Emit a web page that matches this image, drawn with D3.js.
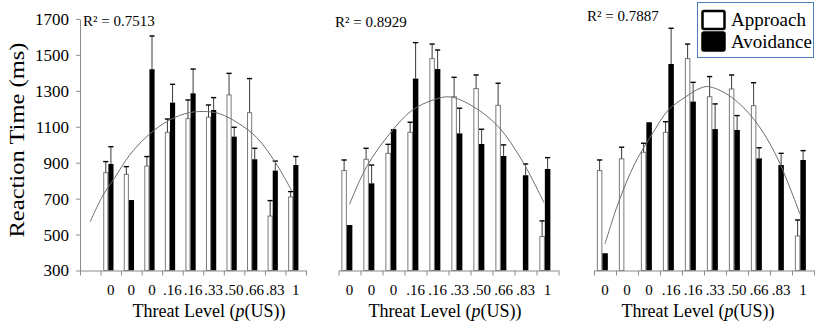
<!DOCTYPE html>
<html>
<head>
<meta charset="utf-8">
<script src="https://cdn.jsdelivr.net/npm/d3@7"></script>
<style>
  html, body { margin: 0; padding: 0; background: #fff; }
  svg { display: block; }
  text { font-family: "Liberation Serif", "Times New Roman", serif; fill: #000; }
</style>
</head>
<body>
<div id="chart"></div>
<script>
// ---------------- data ----------------
const yTicks = [300, 500, 700, 900, 1100, 1300, 1500, 1700];
const seriesNames = ["Approach", "Avoidance"];

const cats1 = ["", "0", "0", "0", ".16", ".16", ".33", ".50", ".66", ".83", "1"];
const approach1    = [null, 844, 835, 881, 1069, 1145, 1153, 1277, 1178, 603, 709];
const approachErr1 = [null, 62, 43, 53, 74, 104, 68, 120, 190, 86, 30];
const avoid1       = [null, 893, 692, 1420, 1234, 1286, 1193, 1045, 919, 856, 887];
const avoidErr1    = [null, 96, 0, 185, 102, 135, 69, 52, 61, 53, 47];
const trend1 = [[0,572],[0.6,715],[1.2,818],[1.9,940],[2.7,1040],[3.6,1120],[4.6,1172],[5.5,1185],[6.3,1172],[7.2,1120],[8.1,1040],[9.0,903],[9.8,745]];

const cats2 = ["0", "0", "0", ".16", ".16", ".33", ".50", ".66", ".83", "1"];
const approach2    = [856, 919, 952, 1069, 1479, 1267, 1312, 1219, null, 489];
const approachErr2 = [59, 61, 50, 56, 81, 108, 76, 123, null, 87];
const avoid2       = [553, 785, 1087, 1368, 1421, 1063, 1004, 937, 830, 865];
const avoidErr2    = [0, 102, 0, 200, 106, 140, 82, 62, 63, 63];
const trend2 = [[0,668],[0.78,878],[1.84,1063],[2.83,1190],[3.81,1249],[4.57,1266],[5.63,1212],[6.76,1101],[7.83,915],[8.84,677]];

const cats3 = ["0", "0", "0", ".16", ".16", ".33", ".50", ".66", ".83", "1"];
const approach3    = [856, 921, 958, 1069, 1479, 1267, 1310, 1217, null, 492];
const approachErr3 = [59, 65, 50, 59, 81, 112, 78, 128, null, 89];
const avoid3       = [396, null, 1125, 1449, 1240, 1087, 1082, 924, 887, 915];
const avoidErr3    = [0, null, 0, 199, 107, 140, 80, 59, 65, 52];
const trend3 = [[0,448],[0.6,674],[1.36,896],[2.12,1054],[2.88,1193],[3.64,1264],[4.32,1314],[4.7,1323],[5.6,1277],[6.67,1156],[7.73,952],[8.86,615]];

const r2Labels = ["R\u00B2 = 0.7513", "R\u00B2 = 0.8929", "R\u00B2 = 0.7887"];
const xTitle = ["Threat Level (", "p", "(US))"];
const yTitle = "Reaction Time (ms)";

// ---------------- layout ----------------
const W = 815, H = 326;
const svg = d3.select("#chart").append("svg").attr("width", W).attr("height", H);

const y = d3.scaleLinear().domain([300, 1700]).range([270.5, 18.9]);

const panels = [
  { cats: cats1, app: approach1, appErr: approachErr1, av: avoid1, avErr: avoidErr1, trend: trend1,
    x0: 80, x1: 306, r2: r2Labels[0], r2x: 83, r2y: 26, yAxis: true, tx: 209 },
  { cats: cats2, app: approach2, appErr: approachErr2, av: avoid2, avErr: avoidErr2, trend: trend2,
    x0: 338.5, x1: 558.5, r2: r2Labels[1], r2x: 335, r2y: 27, yAxis: false, tx: 445 },
  { cats: cats3, app: approach3, appErr: approachErr3, av: avoid3, avErr: avoidErr3, trend: trend3,
    x0: 594, x1: 814, r2: r2Labels[2], r2x: 587, r2y: 21, yAxis: false, tx: 698 }
];

const axisColor = "#8c8c8c";

panels.forEach((p, pi) => {
  const n = p.cats.length;
  const g = svg.append("g");
  const xb = d3.scaleBand().domain(d3.range(n)).range([p.x0, p.x1]).padding(0);
  const bw = xb.bandwidth();
  const sub = d3.scaleBand().domain(seriesNames).range([0.13 * bw, 0.63 * bw]).padding(0);
  const xs = d3.scaleLinear().domain([0, n]).range([p.x0, p.x1]);
  const xt = d3.scaleLinear().domain([-0.5, n - 0.5]).range([p.x0, p.x1]);

  // bars
  const rows = d3.range(n).map(i => ({ i,
    vals: [
      { s: "Approach", v: p.app[i], e: p.appErr[i] },
      { s: "Avoidance", v: p.av[i], e: p.avErr[i] }
    ]}));
  rows.forEach(r => {
    r.vals.forEach(d => {
      if (d.v == null) return;
      const bx = xb(r.i) + sub(d.s);
      const w = sub.bandwidth();
      if (d.s === "Approach") {
        g.append("rect").attr("x", bx + 0.5).attr("y", y(d.v)).attr("width", w - 1)
          .attr("height", y(300) - y(d.v)).attr("fill", "#fff").attr("stroke", "#7a7a7a").attr("stroke-width", 1);
      } else {
        g.append("rect").attr("x", bx).attr("y", y(d.v)).attr("width", w)
          .attr("height", y(300) - y(d.v)).attr("fill", "#000");
      }
      if (d.e > 0) {
        const cx = bx + w / 2;
        g.append("line").attr("x1", cx).attr("x2", cx).attr("y1", y(d.v)).attr("y2", y(d.v + d.e))
          .attr("stroke", "#3a3a3a").attr("stroke-width", 1);
        g.append("line").attr("x1", cx - 2.6).attr("x2", cx + 2.6).attr("y1", y(d.v + d.e)).attr("y2", y(d.v + d.e))
          .attr("stroke", "#000").attr("stroke-width", 1.4);
      }
    });
  });

  // trend curve
  const line = d3.line().x(d => xt(d[0])).y(d => y(d[1])).curve(d3.curveCatmullRom.alpha(0.5));
  g.append("path").attr("d", line(p.trend)).attr("fill", "none").attr("stroke", "#6e6e6e").attr("stroke-width", 1);

  // x axis (ticks at slot boundaries)
  const xa = g.append("g").attr("transform", `translate(0,${y(300)})`)
    .call(d3.axisBottom(xs).tickValues(d3.range(n + 1)).tickFormat("").tickSizeInner(5).tickSizeOuter(0));
  xa.select(".domain").attr("stroke", axisColor);
  xa.selectAll(".tick line").attr("stroke", axisColor);

  // x tick labels (centered in slots)
  g.selectAll("text.xl").data(p.cats).join("text").attr("class", "xl")
    .attr("x", (d, i) => xb(i) + bw / 2).attr("y", 295)
    .attr("text-anchor", "middle").attr("font-size", 15).text(d => d);

  // x title
  const tt = g.append("text").attr("x", p.tx).attr("y", 317)
    .attr("text-anchor", "middle").attr("font-size", 18);
  tt.append("tspan").text(xTitle[0]);
  tt.append("tspan").attr("font-style", "italic").text(xTitle[1]);
  tt.append("tspan").text(xTitle[2]);

  // R² label
  g.append("text").attr("x", p.r2x).attr("y", p.r2y).attr("font-size", 15).text(p.r2);

  if (p.yAxis) {
    const ya = g.append("g").attr("transform", `translate(${p.x0},0)`)
      .call(d3.axisLeft(y).tickValues(yTicks).tickSizeInner(4).tickSizeOuter(0).tickFormat(d3.format("d")));
    ya.select(".domain").attr("stroke", axisColor);
    ya.selectAll(".tick line").attr("stroke", axisColor);
    ya.selectAll(".tick text").attr("font-size", 17).attr("x", -11)
      .style("font-family", '"Liberation Serif", "Times New Roman", serif').attr("fill", "#000");
  }
});

// y title
svg.append("text").attr("transform", "translate(24,140) rotate(-90)")
  .attr("text-anchor", "middle").attr("font-size", 22).attr("textLength", 195)
  .attr("lengthAdjust", "spacingAndGlyphs").text(yTitle);

// legend
const lg = svg.append("g");
lg.append("rect").attr("x", 697.5).attr("y", 2.5).attr("width", 116).attr("height", 55)
  .attr("fill", "#fff").attr("stroke", "#4f81bd").attr("stroke-width", 1);
const legendItems = seriesNames.map((s, i) => ({ s, i }));
lg.selectAll("rect.sw").data(legendItems).join("rect").attr("class", "sw")
  .attr("x", 702.5).attr("y", d => 11 + d.i * 21.5).attr("width", 22).attr("height", 18)
  .attr("rx", 1.5)
  .attr("fill", d => d.i === 0 ? "#fff" : "#000").attr("stroke", "#000").attr("stroke-width", 2.5);
lg.selectAll("text.lt").data(legendItems).join("text").attr("class", "lt")
  .attr("x", 731).attr("y", d => 26 + d.i * 21.5).attr("font-size", 19).text(d => d.s);
</script>
</body>
</html>
